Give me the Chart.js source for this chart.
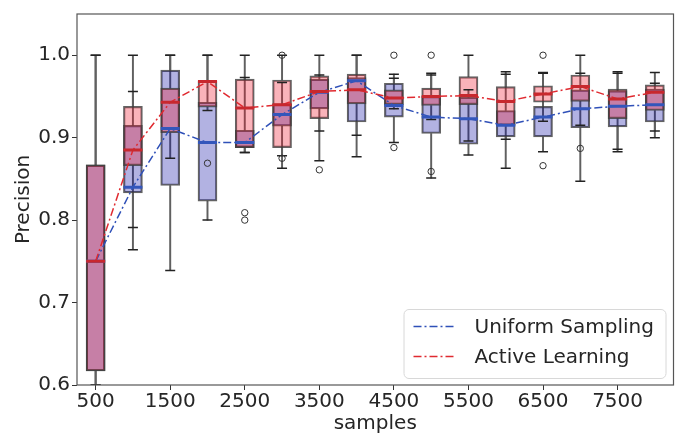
<!DOCTYPE html>
<html><head><meta charset="utf-8">
<script src="https://cdn.jsdelivr.net/npm/chart.js@4.4.1/dist/chart.umd.min.js"></script>
<style>html,body{margin:0;padding:0;background:#fff;} #wrap{width:686px;height:436px;}</style>
</head><body><div id="wrap"><canvas id="c" width="686" height="436"></canvas></div>
<script>
const categories = ['500','1000','1500','2000','2500','3000','3500','4000','4500','5000','5500','6000','6500','7000','7500','8000'];
const xTickLabels = ['500','1500','2500','3500','4500','5500','6500','7500'];
const yTickValues = [0.6, 0.7, 0.8, 0.9, 1.0];

// Uniform Sampling
const uniformLow    = [0.600, 0.791, 0.739, 0.800, 0.882, 0.878, 0.908, 0.877, 0.894, 0.851, 0.879, 0.863, 0.883, 0.847, 0.883, 0.900];
const uniformQ1     = [0.617, 0.833, 0.842, 0.823, 0.888, 0.914, 0.935, 0.919, 0.925, 0.905, 0.892, 0.901, 0.901, 0.912, 0.913, 0.919];
const uniformMedian = [0.750, 0.840, 0.911, 0.894, 0.894, 0.928, 0.955, 0.969, 0.939, 0.925, 0.923, 0.915, 0.925, 0.935, 0.938, 0.940];
const uniformQ3     = [0.867, 0.915, 0.982, 0.943, 0.909, 0.941, 0.971, 0.973, 0.966, 0.950, 0.949, 0.933, 0.938, 0.958, 0.957, 0.959];
const uniformHigh   = [1.000, 0.956, 1.000, 1.000, 0.973, 0.967, 0.976, 1.000, 0.972, 0.976, 0.958, 0.977, 0.978, 0.978, 0.978, 0.966];
const uniformOutliers = [[], [], [], [0.869], [0.809, 0.800], [1.0, 0.875], [], [], [0.888], [], [], [], [0.866], [], [], []];

// Active Learning
const activeLow    = [0.600, 0.764, 0.875, 0.933, 0.882, 0.863, 0.872, 0.903, 0.935, 0.922, 0.896, 0.898, 0.920, 0.915, 0.886, 0.908];
const activeQ1     = [0.617, 0.866, 0.906, 0.937, 0.888, 0.888, 0.923, 0.941, 0.940, 0.939, 0.940, 0.915, 0.943, 0.944, 0.923, 0.933];
const activeMedian = [0.750, 0.885, 0.943, 0.968, 0.936, 0.940, 0.956, 0.958, 0.948, 0.950, 0.951, 0.944, 0.953, 0.962, 0.947, 0.955];
const activeQ3     = [0.867, 0.938, 0.960, 0.969, 0.971, 0.970, 0.975, 0.977, 0.958, 0.960, 0.974, 0.962, 0.963, 0.976, 0.959, 0.964];
const activeHigh   = [1.000, 1.000, 1.000, 1.000, 1.000, 1.000, 1.000, 1.000, 0.977, 0.978, 1.000, 0.980, 0.979, 1.000, 0.980, 0.979];
const activeOutliers = [[], [], [], [], [], [], [0.861], [], [1.0], [1.0, 0.859], [], [], [1.0], [0.887], [], []];

const FONT = 'DejaVu Sans';
const TEXT = '#262626';

const pairs = (a, b) => categories.map((c, i) => [a[i], b[i]]);
const pts = (arr) => categories.map((c, i) => ({x: c, y: arr[i]}));
const outPts = (lists) => lists.flatMap((l, i) => l.map(v => ({x: categories[i], y: v})));

const whisker = (data) => ({type: 'bar', data, backgroundColor: '#606060', borderWidth: 0, barThickness: 1.3, grouped: false, order: 20});
const box = (data, fill) => ({type: 'bar', data, backgroundColor: fill, borderColor: 'rgba(60,60,60,0.8)', borderWidth: 1.5, borderSkipped: false, barThickness: 19, grouped: false});
const caps = (a, b) => ({type: 'line', showLine: false, data: [...pts(a), ...pts(b)], pointStyle: 'line', pointRadius: 5, pointBorderWidth: 1.5, pointBorderColor: '#222', order: 10});

const framePlugin = {
  id: 'frame',
  afterDatasetsDraw(chart) {
    const {ctx, chartArea: a} = chart;
    ctx.save();
    ctx.strokeStyle = '#555';
    ctx.lineWidth = 1.2;
    ctx.strokeRect(a.left, a.top, a.right - a.left, a.bottom - a.top);
    ctx.restore();
  }
};

const legendPlugin = {
  id: 'innerLegend',
  afterDraw(chart) {
    const {ctx, chartArea: a} = chart;
    const items = chart.data.datasets.filter(d => d.label);
    const w = 262, h = 69;
    const L = a.right - 8 - w, T = a.bottom - 7 - h;
    ctx.save();
    ctx.beginPath();
    ctx.roundRect(L + 0.5, T + 0.5, w, h, 5);
    ctx.fillStyle = 'rgba(255,255,255,0.8)';
    ctx.fill();
    ctx.strokeStyle = '#d8d8d8';
    ctx.lineWidth = 1;
    ctx.stroke();
    items.forEach((d, k) => {
      const y = T + 17.5 + k * 30;
      ctx.beginPath();
      ctx.setLineDash(d.borderDash);
      ctx.strokeStyle = d.borderColor;
      ctx.lineWidth = 1.5;
      ctx.moveTo(L + 10, y);
      ctx.lineTo(L + 52, y);
      ctx.stroke();
      ctx.setLineDash([]);
      ctx.fillStyle = TEXT;
      ctx.font = '20px "' + FONT + '"';
      ctx.textBaseline = 'middle';
      ctx.textAlign = 'left';
      ctx.fillText(d.label, L + 71, y + 1);
    });
    ctx.restore();
  }
};

new Chart(document.getElementById('c'), {
  type: 'bar',
  data: {
    labels: categories,
    datasets: [
      whisker(pairs(uniformQ3, uniformHigh)),
      whisker(pairs(uniformLow, uniformQ1)),
      whisker(pairs(activeQ3, activeHigh)),
      whisker(pairs(activeLow, activeQ1)),
      Object.assign(box(pairs(uniformQ1, uniformQ3), 'rgba(0,0,160,0.3)'), {order: 15}),
      Object.assign(box(pairs(activeQ1, activeQ3), 'rgba(240,20,40,0.32)'), {order: 14}),
      caps(uniformHigh, uniformLow),
      caps(activeHigh, activeLow),
      {type: 'line', label: 'Uniform Sampling', data: uniformMedian, borderColor: '#2f50b8', borderWidth: 1.5,
       borderDash: [8, 3, 2, 3], tension: 0, pointStyle: 'line', pointRadius: 9.5, pointBorderWidth: 3,
       pointBorderColor: '#3356bb', pointBackgroundColor: '#3356bb', order: 5},
      {type: 'line', label: 'Active Learning', data: activeMedian, borderColor: '#e02a30', borderWidth: 1.5,
       borderDash: [8, 3, 2, 3], tension: 0, pointStyle: 'line', pointRadius: 9.5, pointBorderWidth: 3,
       pointBorderColor: '#c8282e', pointBackgroundColor: '#c8282e', order: 4},
      {type: 'line', showLine: false, data: [...outPts(uniformOutliers), ...outPts(activeOutliers)],
       pointStyle: 'circle', pointRadius: 3.2, pointBorderWidth: 1, pointBorderColor: '#333',
       pointBackgroundColor: 'rgba(0,0,0,0)', order: 1}
    ]
  },
  options: {
    responsive: false,
    animation: false,
    devicePixelRatio: 1,
    events: [],
    layout: {padding: {top: 7.5, right: 8, bottom: 0, left: 0}},
    plugins: {legend: {display: false}, tooltip: {enabled: false}},
    scales: {
      x: {
        type: 'category', offset: true,
        grid: {offset: false, drawOnChartArea: false, drawTicks: true, tickLength: 5, tickWidth: 1,
               color: ctx => xTickLabels.includes(categories[ctx.index]) ? '#333' : 'rgba(0,0,0,0)'},
        border: {display: false},
        ticks: {autoSkip: false, maxRotation: 0, padding: 0, color: TEXT, font: {family: FONT, size: 20},
                callback: (v, i) => xTickLabels.includes(categories[i]) ? categories[i] : ''},
        title: {display: true, text: 'samples', color: TEXT, font: {family: FONT, size: 20}, padding: {top: 0, bottom: 0}},
        afterFit: s => { s.height = 51; }
      },
      y: {
        type: 'linear', min: 0.6, max: 1.05,
        afterBuildTicks: s => { s.ticks = yTickValues.map(v => ({value: v})); },
        grid: {drawOnChartArea: false, drawTicks: true, tickLength: 5, color: '#333'},
        border: {display: false},
        ticks: {padding: 2, color: TEXT, font: {family: FONT, size: 20}, callback: v => Number(v).toFixed(1)},
        title: {display: true, text: 'Precision', color: TEXT, font: {family: FONT, size: 20}, padding: {top: 12, bottom: 0}},
        afterFit: s => { s.width = 77; }
      }
    }
  },
  plugins: [framePlugin, legendPlugin]
});
</script></body></html>
